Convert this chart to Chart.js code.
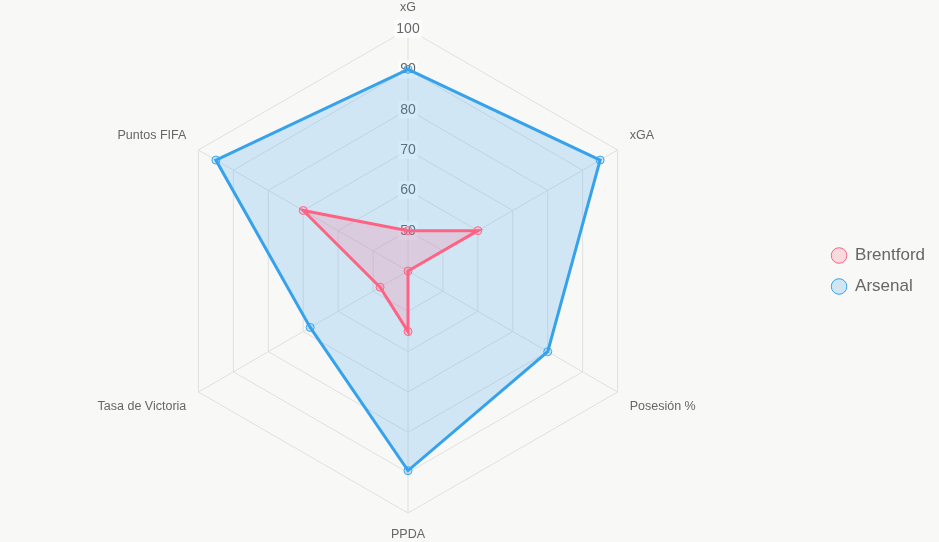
<!DOCTYPE html>
<html>
<head>
<meta charset="utf-8">
<script src="https://cdn.jsdelivr.net/npm/chart.js@4"></script>
<style>
  html, body { margin: 0; padding: 0; background: #f8f8f7; }
  #wrap { width: 939px; height: 542px; }
</style>
</head>
<body>
<div id="wrap"><canvas id="radar"></canvas></div>
<script>
const labels = ['xG', 'xGA', 'Posesión %', 'PPDA', 'Tasa de Victoria', 'Puntos FIFA'];
const brentford = [50, 60, 40, 55, 48, 70];
const arsenal = [90, 95, 80, 89.5, 68, 95];

Chart.defaults.font.family = 'Arial, "Liberation Sans", sans-serif';
Chart.defaults.color = '#666';

new Chart(document.getElementById('radar').getContext('2d'), {
  type: 'radar',
  data: {
    labels,
    datasets: [
      {
        label: 'Brentford', data: brentford,
        borderColor: 'rgb(255, 99, 132)', backgroundColor: 'rgba(255, 99, 132, 0.2)',
        pointBackgroundColor: 'rgba(255, 99, 132, 0.2)', pointBorderColor: 'rgb(255, 99, 132)',
        borderWidth: 3, pointRadius: 4, pointBorderWidth: 1
      },
      {
        label: 'Arsenal', data: arsenal,
        borderColor: 'rgb(54, 162, 235)', backgroundColor: 'rgba(54, 162, 235, 0.2)',
        pointBackgroundColor: 'rgba(54, 162, 235, 0.2)', pointBorderColor: 'rgb(54, 162, 235)',
        borderWidth: 3, pointRadius: 4, pointBorderWidth: 1
      }
    ]
  },
  options: {
    responsive: true,
    maintainAspectRatio: false,
    animation: false,
    layout: { padding: { right: 4 } },
    plugins: {
      legend: {
        position: 'right',
        labels: {
          usePointStyle: true, pointStyle: 'circle', font: { size: 17 }, padding: 14,
          boxWidth: 15, boxHeight: 11,
          generateLabels(chart) {
            const items = Chart.defaults.plugins.legend.labels.generateLabels(chart);
            items.forEach(it => { it.lineWidth = 1; });
            return items;
          }
        }
      }
    },
    scales: {
      r: {
        min: 40, max: 100,
        ticks: { stepSize: 10, font: { size: 14 }, color: '#666', backdropColor: 'rgba(255,255,255,0.75)' },
        pointLabels: { font: { size: 12.5 }, color: '#666' },
        grid: { color: '#e0e0e0' },
        angleLines: { color: '#e0e0e0' }
      }
    }
  }
});
</script>
</body>
</html>
